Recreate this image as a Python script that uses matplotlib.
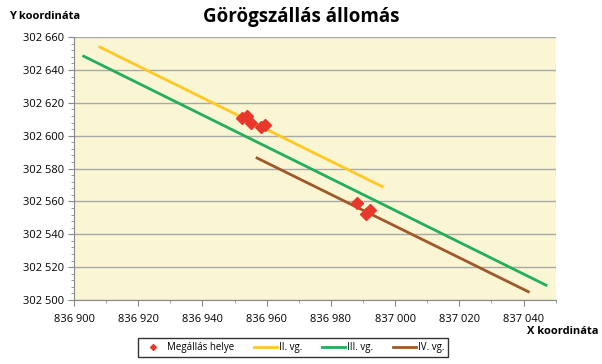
import numpy as np
import matplotlib
matplotlib.use("Agg")
from matplotlib import pyplot as plt
from matplotlib.ticker import MultipleLocator, FuncFormatter

# stops (Megállás helye)
stop_x = [836952.3, 836953.8, 836955.0, 836958.2, 836959.4, 836988.0, 836990.8, 836992.1]
stop_y = [302610.7, 302612.0, 302607.7, 302605.3, 302606.5, 302559.0, 302552.3, 302554.8]

# track lines (start, end)
ii_x = [836908, 836996]
ii_y = [302654, 302569]
iii_x = [836903, 837047]
iii_y = [302648.4, 302509]
iv_x = [836957, 837041.5]
iv_y = [302586.4, 302505]

plt.rcParams['font.family'] = ['Open Sans', 'DejaVu Sans']


def spaced(v, pos):
    return "{:,.0f}".format(v).replace(",", " ")


fig = plt.figure(figsize=(6.02, 3.64), dpi=100)
ax = fig.add_axes([0.123, 0.176, 0.80, 0.722])
ax.set_facecolor('#FAF6D3')

ax.plot(stop_x, stop_y, 'D', color='#E8372B', markersize=6, label='Megállás helye', zorder=4)
ax.plot(ii_x, ii_y, color='#FFC823', lw=2, label='II. vg.')
ax.plot(iii_x, iii_y, color='#22AE5B', lw=2, label='III. vg.')
ax.plot(iv_x, iv_y, color='#A0582A', lw=2, label='IV. vg.')

ax.set_xlim(836900, 837050)
ax.set_ylim(302500, 302660)
ax.xaxis.set_major_locator(MultipleLocator(20))
ax.xaxis.set_minor_locator(MultipleLocator(10))
ax.yaxis.set_major_locator(MultipleLocator(20))
ax.yaxis.set_minor_locator(MultipleLocator(4))
ax.xaxis.set_major_formatter(FuncFormatter(spaced))
ax.yaxis.set_major_formatter(FuncFormatter(spaced))
ax.tick_params(labelsize=8, color='#888888', length=4)
ax.tick_params(axis='x', pad=6)
ax.tick_params(which='minor', color='#888888', length=2)
ax.grid(axis='y', color='#A8A8A8', lw=1)
ax.set_axisbelow(True)
for s in ['top', 'right']:
    ax.spines[s].set_visible(False)
for s in ['left', 'bottom']:
    ax.spines[s].set_color('#888888')

fig.text(0.5, 0.953, 'Görögszállás állomás', ha='center', va='center', fontsize=13.5, fontweight='bold')
fig.text(0.015, 0.955, 'Y koordináta', ha='left', va='center', fontsize=8, fontweight='bold')
fig.text(0.995, 0.09, 'X koordináta', ha='right', va='center', fontsize=8, fontweight='bold')

leg = fig.legend(loc='center', bbox_to_anchor=(0.487, 0.045), ncol=4, fontsize=7,
                 frameon=True, fancybox=False, edgecolor='black', handlelength=2.4,
                 handletextpad=0.2, markerscale=0.5, columnspacing=2.0, borderpad=0.4)
leg.get_frame().set_linewidth(1)

plt.savefig('out.png', dpi=100)
